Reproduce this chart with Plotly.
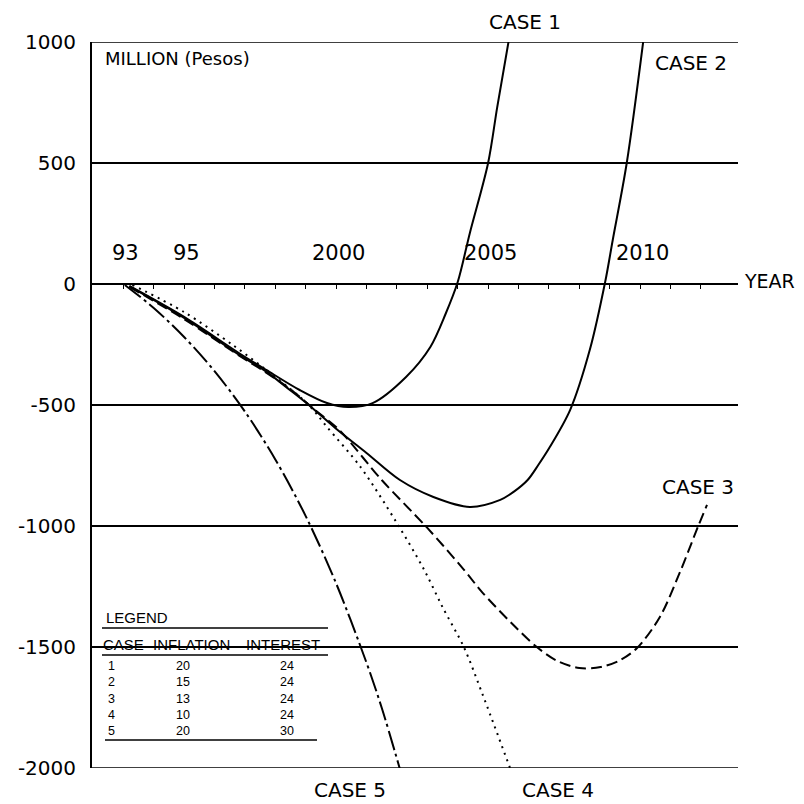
import plotly.graph_objects as go

# ---------------- data ----------------
case1_years = [1994.2, 1996.0, 1997.8, 1998.7, 1999.8, 2000.7, 2001.4, 2002.2, 2003.3,
               2004.1, 2004.6, 2005.0, 2005.4, 2006.0, 2006.3, 2006.67]
case1_values = [-8, -136, -285, -355, -438, -492, -508, -492, -384,
                -260, -124, 8, 211, 500, 731, 1000]

case2_years = [1994.2, 1996.0, 1997.8, 1998.7, 1999.5, 2000.1, 2001.0, 2002.0, 2003.1, 2004.2,
               2005.4, 2006.4, 2006.85, 2007.3, 2007.65, 2008.0, 2008.7, 2009.35, 2009.85,
               2010.1, 2010.56, 2011.1]
case2_values = [-10, -140, -292, -362, -440, -500, -598, -698, -810, -880,
                -921, -892, -858, -810, -748, -680, -520, -270, 8,
                182, 500, 1000]

case3_years = [1994.2, 1996.0, 1997.8, 1998.7, 1999.6, 2000.3, 2001.1, 2002.5, 2004.0, 2005.2,
               2005.8, 2006.8, 2007.6, 2008.25, 2009.0, 2009.7, 2010.35, 2010.9, 2011.65,
               2012.3, 2012.9, 2013.2]
case3_values = [-12, -145, -295, -366, -445, -520, -603, -810, -1008, -1180,
                -1273, -1405, -1500, -1556, -1587, -1583, -1554, -1504, -1376,
                -1194, -1004, -913]

case4_years = [1994.3, 1996.0, 1997.6, 1998.7, 2000.1, 2000.7, 2001.8, 2003.0, 2003.9, 2004.5,
               2005.2, 2005.8, 2006.75]
case4_values = [-4, -116, -252, -355, -500, -591, -756, -988, -1182, -1335,
                -1500, -1690, -2010]

case5_years = [1994.05, 1995.0, 1996.0, 1997.0, 1998.0, 1999.0, 2000.0, 2001.0, 2002.0,
               2002.5, 2003.1]
case5_values = [-4, -99, -219, -360, -527, -725, -959, -1237, -1565, -1751, -2005]

y_tick_vals = [1000, 500, 0, -500, -1000, -1500, -2000]
y_tick_text = ["1000", "500", "0", "-500", "-1000", "-1500", "-2000"]
year_minor_ticks = list(range(1994, 2014))
year_label_years = [1993, 1995, 2000, 2005, 2010]
year_label_text = ["93", "95", "2000", "2005", "2010"]

legend_cases = ["1", "2", "3", "4", "5"]
legend_inflation = ["20", "15", "13", "10", "20"]
legend_interest = ["24", "24", "24", "24", "30"]

# ---------------- figure ----------------
FONT = "DejaVu Sans"
L, R, T, B = 92, 738, 42, 768


def px(x):
    return (x - L) / (R - L)


def py(y):
    return (B - y) / (B - T)


fig = go.Figure()
styles = [
    ("CASE 1", case1_years, case1_values, "solid"),
    ("CASE 2", case2_years, case2_values, "solid"),
    ("CASE 3", case3_years, case3_values, "11px,5px"),
    ("CASE 4", case4_years, case4_values, "2px,5px"),
    ("CASE 5", case5_years, case5_values, "20px,4px,3px,4px"),
]
for name, xs, ys, dash in styles:
    fig.add_trace(go.Scatter(
        x=xs, y=ys, mode="lines", name=name,
        line=dict(color="black", width=2, dash=dash, shape="spline", smoothing=0.9),
        showlegend=False, hoverinfo="skip"))

annotations = []
# year labels above the zero axis
for yr, txt in zip(year_label_years, year_label_text):
    annotations.append(dict(x=yr + 1.08, y=128, xref="x", yref="y", text=txt,
                            showarrow=False, xanchor="center", yanchor="middle",
                            font=dict(family=FONT, size=21, color="black")))

text_items = [
    ("MILLION (Pesos)", 103, 58, "left", 18),
    ("YEAR", 742, 281, "left", 19),
    ("CASE 1", 525, 22, "center", 20),
    ("CASE 2", 653, 63, "left", 20),
    ("CASE 3", 660, 487, "left", 20),
    ("CASE 4", 520, 790, "left", 20),
    ("CASE 5", 312, 790, "left", 20),
]
for txt, x, y, anc, sz in text_items:
    annotations.append(dict(x=px(x), y=py(y), xref="paper", yref="paper", text=txt,
                            showarrow=False, xanchor=anc, yanchor="middle",
                            font=dict(family=FONT, size=sz, color="black")))

# legend table
LF = dict(family="Liberation Sans", size=15, color="black")
annotations.append(dict(x=px(104), y=py(617), xref="paper", yref="paper", text="LEGEND",
                        showarrow=False, xanchor="left", yanchor="middle", font=LF))
for txt, x in [("CASE", 123), ("INFLATION", 191), ("INTEREST", 283)]:
    annotations.append(dict(x=px(x), y=py(644), xref="paper", yref="paper", text=txt,
                            showarrow=False, xanchor="center", yanchor="middle", font=LF))
RF = dict(family="Liberation Sans", size=12.5, color="black")
for col, x in [(legend_cases, 111), (legend_inflation, 183), (legend_interest, 287)]:
    annotations.append(dict(x=px(x), y=py(698.5), xref="paper", yref="paper",
                            text="<br>".join(col), showarrow=False, align="center",
                            xanchor="center", yanchor="middle", font=RF))

shapes = [
    # frame lines at the top / bottom grid values
    dict(type="line", xref="paper", yref="y", x0=0, x1=1, y0=1000, y1=1000,
         line=dict(color="black", width=1.5), layer="below"),
    dict(type="line", xref="paper", yref="y", x0=0, x1=1, y0=-2000, y1=-2000,
         line=dict(color="black", width=1.5), layer="below"),
    # mask the -1500 grid line behind the legend header
    dict(type="rect", xref="paper", yref="paper", x0=px(94), x1=px(329),
         y0=py(652), y1=py(636), fillcolor="white", line=dict(width=0), layer="below"),
    dict(type="line", xref="paper", yref="paper", x0=px(102), x1=px(328),
         y0=py(628), y1=py(628), line=dict(color="black", width=1.5)),
    dict(type="line", xref="paper", yref="paper", x0=px(102), x1=px(328),
         y0=py(655), y1=py(655), line=dict(color="black", width=1.5)),
    dict(type="line", xref="paper", yref="paper", x0=px(105), x1=px(317),
         y0=py(740), y1=py(740), line=dict(color="black", width=1.5)),
]

fig.update_layout(
    width=804, height=804,
    margin=dict(l=L, r=804 - R, t=T, b=804 - B, pad=0),
    paper_bgcolor="white", plot_bgcolor="white",
    annotations=annotations, shapes=shapes,
    xaxis=dict(range=[1992.97, 2014.22], anchor="free", position=2 / 3,
               showline=True, linecolor="black", linewidth=2,
               showgrid=False, zeroline=False, showticklabels=False,
               tickmode="array", tickvals=year_minor_ticks,
               ticks="outside", ticklen=4, tickwidth=1, tickcolor="black"),
    yaxis=dict(range=[-2000, 1000], tickmode="array", tickvals=y_tick_vals,
               ticktext=y_tick_text, showgrid=True, gridcolor="black", gridwidth=1.5,
               zeroline=False, showline=True, linecolor="black", linewidth=2,
               ticks="", ticklabelstandoff=10,
               tickfont=dict(family=FONT, size=20, color="black")),
)

fig.write_html("out.html", config={"displayModeBar": False},
               post_script="document.body.style.margin='0';document.body.style.overflow='hidden';")
